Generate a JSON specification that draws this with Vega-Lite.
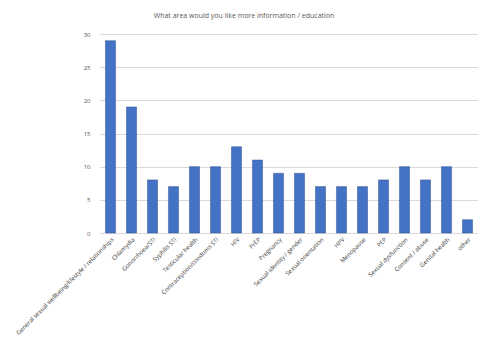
{
  "$schema": "https://vega.github.io/schema/vega-lite/v6.json",
  "autosize": {"type": "none"},
  "width": 378,
  "height": 199,
  "padding": {"left": 100, "top": 34, "right": 0, "bottom": 105},
  "background": "white",
  "config": {"view": {"stroke": null}, "font": "Open Sans"},
  "title": {
    "text": "What area would you like more information / education",
    "fontSize": 7,
    "fontWeight": "normal",
    "color": "#595959",
    "anchor": "middle",
    "dx": -45,
    "offset": 12
  },
  "data": {
    "values": [
      {"area": "General sexual wellbeing/lifestyle / relationships", "count": 29},
      {"area": "Chlamydia", "count": 19},
      {"area": "Gonorrhoea/STI", "count": 8},
      {"area": "Syphilis STI", "count": 7},
      {"area": "Testicular health", "count": 10},
      {"area": "Contraception/condoms STI", "count": 10},
      {"area": "HIV", "count": 13},
      {"area": "PrEP", "count": 11},
      {"area": "Pregnancy", "count": 9},
      {"area": "Sexual identity / gender", "count": 9},
      {"area": "Sexual orientation", "count": 7},
      {"area": "HPV", "count": 7},
      {"area": "Menopause", "count": 7},
      {"area": "PEP", "count": 8},
      {"area": "Sexual dysfunction", "count": 10},
      {"area": "Consent / abuse", "count": 8},
      {"area": "Genital health", "count": 10},
      {"area": "other", "count": 2}
    ]
  },
  "mark": {"type": "bar", "color": "#4472c4", "stroke": "#2f5597", "strokeWidth": 0.5},
  "encoding": {
    "x": {
      "field": "area",
      "type": "nominal",
      "sort": null,
      "title": null,
      "scale": {"paddingInner": 0.52, "paddingOuter": 0.26},
      "axis": {
        "labelAngle": -45,
        "labelFontSize": 6,
        "labelColor": "#404040",
        "labelLimit": 200,
        "ticks": false,
        "domain": false,
        "labelPadding": 3
      }
    },
    "y": {
      "field": "count",
      "type": "quantitative",
      "title": null,
      "scale": {"domain": [0, 30]},
      "axis": {
        "values": [0, 5, 10, 15, 20, 25, 30],
        "labelFontSize": 6,
        "labelColor": "#595959",
        "ticks": false,
        "domain": false,
        "gridColor": "#d9d9d9",
        "labelPadding": 10
      }
    }
  }
}
